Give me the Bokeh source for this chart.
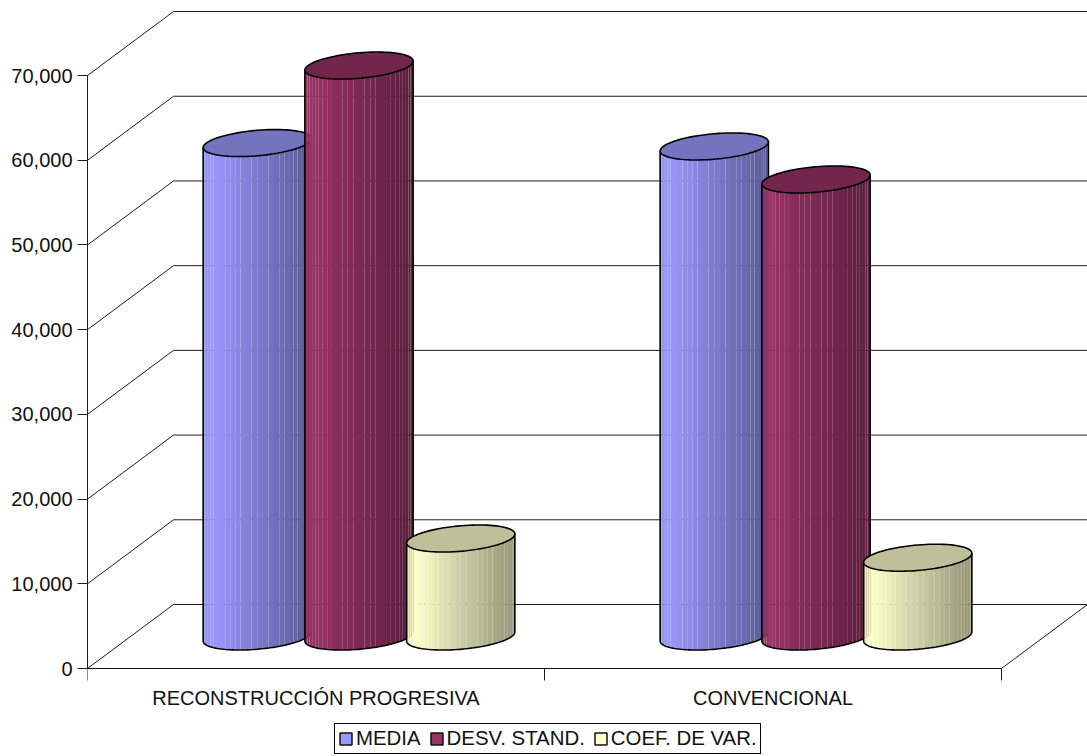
import numpy as np
from bokeh.embed import file_html
from bokeh.resources import INLINE
from bokeh.plotting import figure
from bokeh.models import (FixedTicker, Legend, LegendItem, LinearAxis, NumeralTickFormatter,
                          Range1d)

# Chart data
categories = ["RECONSTRUCCIÓN PROGRESIVA", "CONVENCIONAL"]
series_names = ["MEDIA", "DESV. STAND.", "COEF. DE VAR."]
media = [58250, 57850]
desv_stand = [67400, 53950]
coef_var = [11570, 9300]
y_ticks = [0, 10000, 20000, 30000, 40000, 50000, 60000, 70000]

base_colors = [(0x99, 0x99, 0xFF), (0x99, 0x33, 0x66), (0xFF, 0xFF, 0xCC)]

# Oblique projection of the chart box, in data units
DEPTH_X = 0.1882      # horizontal shift of the back plane, in category bands
DEPTH_Y = 7555        # vertical shift of the back plane, in value units
BAR_PITCH = 0.2226    # distance between neighbouring cylinders
RADIUS_X = 0.1116     # cylinder radius along the category axis
RADIUS_D = 0.211      # cylinder radius along the depth axis
STRIPS = 30
FONT = "Liberation Sans"
FONT_SIZE = "20px"
LINE = "#1c1c1c"

p = figure(width=1087, height=756, output_backend="svg", toolbar_location=None,
           x_range=Range1d(0, 1000 / 457), y_range=Range1d(-10388, 78857),
           x_axis_type=None, y_axis_type=None,
           min_border_left=87, min_border_right=0, min_border_top=0, min_border_bottom=0)
p.outline_line_color = None
p.grid.visible = False
p.background_fill_color = "white"

yaxis = LinearAxis(ticker=FixedTicker(ticks=y_ticks), bounds=(0, 70000),
                   formatter=NumeralTickFormatter(format="0,0"),
                   major_tick_out=10, major_tick_in=0, minor_tick_out=0, minor_tick_in=0,
                   major_label_standoff=5, major_label_text_font=FONT,
                   major_label_text_font_size=FONT_SIZE, major_label_text_color="#111111",
                   axis_line_color=LINE, major_tick_line_color=LINE)
p.add_layout(yaxis, "left")

band_centers = [i + 0.5 for i in range(len(categories))]
band_edges = list(range(len(categories) + 1))
xaxis = LinearAxis(ticker=FixedTicker(ticks=band_centers, minor_ticks=band_edges),
                   bounds=(0, len(categories)), fixed_location=0,
                   major_label_overrides=dict(zip(band_centers, categories)),
                   major_tick_out=0, major_tick_in=0, minor_tick_out=12, minor_tick_in=0,
                   major_label_standoff=6, major_label_text_font=FONT,
                   major_label_text_font_size=FONT_SIZE, major_label_text_color="#111111",
                   axis_line_color="#111111", minor_tick_line_color=LINE)
p.add_layout(xaxis, "below")

# Side wall diagonals and back wall grid lines
ticks = np.array(y_ticks, dtype=float)
p.segment(0, ticks, DEPTH_X, ticks + DEPTH_Y, line_color=LINE, line_width=1)
p.segment(DEPTH_X, ticks + DEPTH_Y, len(categories) + DEPTH_X, ticks + DEPTH_Y,
          line_color=LINE, line_width=1)
p.segment(len(categories), 0, len(categories) + DEPTH_X, DEPTH_Y, line_color=LINE, line_width=1)


def shade(color, factor):
    return "#%02x%02x%02x" % tuple(int(round(c * factor)) for c in color)


def ring(center, value, angle):
    """Points of a horizontal circle of the cylinder, projected onto the page."""
    depth = 0.5 + RADIUS_D * np.sin(angle)
    return center + RADIUS_X * np.cos(angle) + depth * DEPTH_X, value + depth * DEPTH_Y


# The silhouette of the projected circle starts where the x coordinate is extreme
silhouette = np.arctan2(RADIUS_D * DEPTH_X, RADIUS_X)


def cylinder(center, value, color):
    angles = np.linspace(silhouette + np.pi, silhouette + 2 * np.pi, STRIPS + 1)
    x_left = ring(center, 0, np.array([silhouette + np.pi]))[0][0]
    x_right = ring(center, 0, np.array([silhouette]))[0][0]
    xs, ys, fills = [], [], []
    for i in range(STRIPS):
        a = np.linspace(angles[i], angles[i + 1], 3)
        xb, yb = ring(center, 0, a)
        xt, yt = ring(center, value, a[::-1])
        xs.append(np.concatenate([xb, xt]))
        ys.append(np.concatenate([yb, yt]))
        u = (xb[1] - x_left) / (x_right - x_left)
        factor = 0.9 + u * 1.5 if u < 0.07 else 1.0 - 0.42 * (u - 0.07) / 0.93
        fills.append(shade(color, factor))
    p.patches(xs, ys, fill_color=fills, line_color=None)

    # Outline of the body, then the top face
    xb, yb = ring(center, 0, np.linspace(silhouette + np.pi, silhouette + 2 * np.pi, 60))
    p.line(np.concatenate([[xb[0]], xb, [xb[-1]]]),
           np.concatenate([[yb[0] + value], yb, [yb[-1] + value]]),
           line_color="black", line_width=1.6)
    xt, yt = ring(center, value, np.linspace(0, 2 * np.pi, 90))
    p.patch(xt, yt, fill_color=shade(color, 0.75), line_color="black", line_width=1.6)


all_series = [media, desv_stand, coef_var]
for g in range(len(categories)):
    for s, values in enumerate(all_series):
        cylinder(g + 0.5 + (s - 1) * BAR_PITCH, values[g], base_colors[s])

# Legend keys come from one flat quad per series, parked outside the visible ranges
items = []
for name, color in zip(series_names, base_colors):
    swatch = p.quad(left=[-1], right=[-0.9], top=[-50000], bottom=[-60000],
                    fill_color=shade(color, 1), line_color="#111111", line_width=1.5)
    items.append(LegendItem(label=name, renderers=[swatch]))

legend = Legend(items=items, orientation="horizontal", location=(247, 2),
                glyph_width=15, glyph_height=15, label_standoff=3, spacing=8,
                padding=3, margin=0, border_line_color="black", border_line_width=1.5,
                border_line_alpha=1, label_text_font=FONT, label_text_font_size="20.4px",
                label_text_color="#111111", background_fill_alpha=1)
p.add_layout(legend, "center")

open("out.html", "w").write(file_html(p, INLINE))
